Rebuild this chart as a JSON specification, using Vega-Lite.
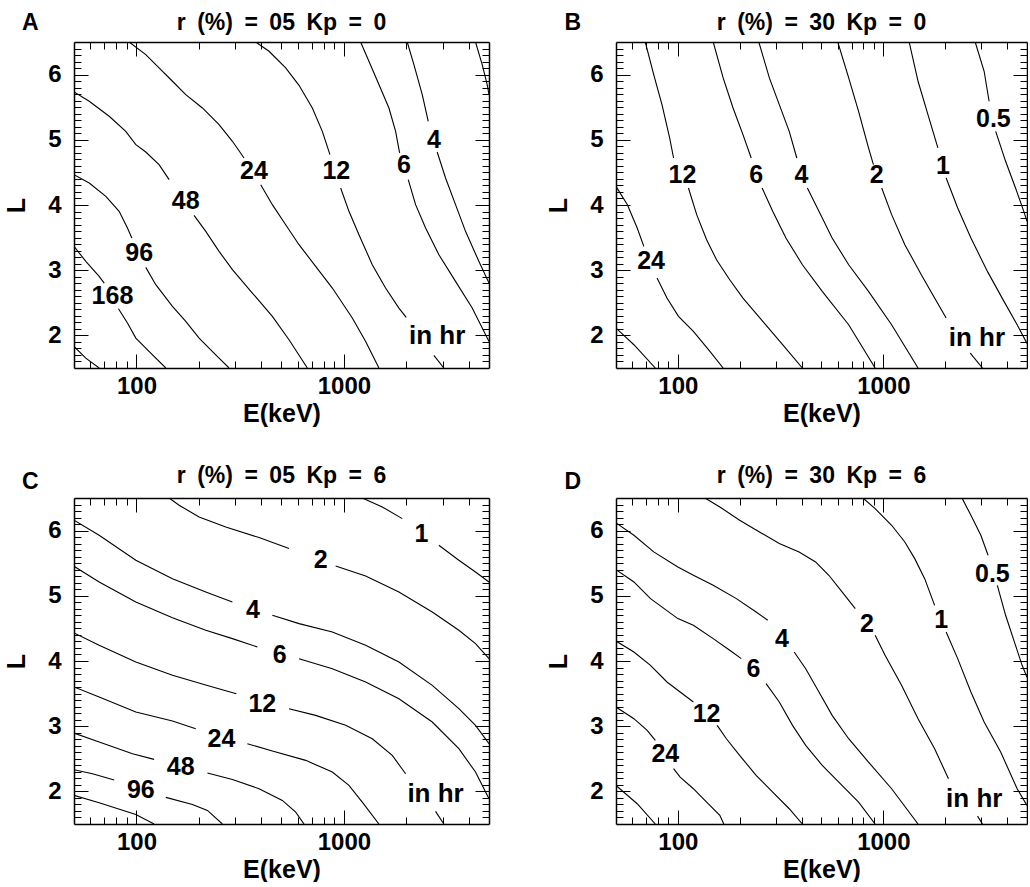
{
  "$schema": "https://vega.github.io/schema/vega-lite/v6.json",
  "background": "white",
  "padding": {"left": 4, "top": 12, "right": 0, "bottom": 0},
  "config": {
    "view": {"stroke": null},
    "font": "Liberation Sans",
    "axis": {"labelFont": "Liberation Sans", "labelFontWeight": "bold", "labelFontSize": 24, "labelColor": "black", "titleFont": "Liberation Sans", "titleFontWeight": "bold", "titleFontSize": 25, "titleColor": "black", "tickColor": "black", "tickWidth": 1, "domainColor": "black", "domainWidth": 1.5, "grid": false, "labelOverlap": false, "labelFlush": false}
  },
  "datasets": {
    "lines": [
      {"p":"A","s":"a0","E":50,"L":1.831},{"p":"A","s":"a0","E":57,"L":1.652},{"p":"A","s":"a0","E":66.1,"L":1.5},
      {"p":"A","s":"a168a","E":50,"L":3.366},{"p":"A","s":"a168a","E":57,"L":3.136},{"p":"A","s":"a168a","E":66.1,"L":2.905},{"p":"A","s":"a168a","E":69.9,"L":2.803},
      {"p":"A","s":"a168b","E":81.9,"L":2.409},{"p":"A","s":"a168b","E":90.5,"L":2.189},{"p":"A","s":"a168b","E":99.3,"L":1.959},{"p":"A","s":"a168b","E":117.2,"L":1.729},{"p":"A","s":"a168b","E":138.5,"L":1.5},
      {"p":"A","s":"a96a","E":50,"L":4.465},{"p":"A","s":"a96a","E":59.2,"L":4.338},{"p":"A","s":"a96a","E":71.2,"L":4.133},{"p":"A","s":"a96a","E":82.5,"L":3.903},{"p":"A","s":"a96a","E":90.5,"L":3.647},{"p":"A","s":"a96a","E":95,"L":3.494},
      {"p":"A","s":"a96b","E":110.9,"L":3.043},{"p":"A","s":"a96b","E":123.9,"L":2.778},{"p":"A","s":"a96b","E":149.1,"L":2.445},{"p":"A","s":"a96b","E":172.8,"L":2.215},{"p":"A","s":"a96b","E":200.4,"L":1.959},{"p":"A","s":"a96b","E":241,"L":1.703},{"p":"A","s":"a96b","E":279.4,"L":1.5},
      {"p":"A","s":"a48a","E":50,"L":5.734},{"p":"A","s":"a48a","E":59.2,"L":5.591},{"p":"A","s":"a48a","E":73.9,"L":5.361},{"p":"A","s":"a48a","E":88.8,"L":5.13},{"p":"A","s":"a48a","E":99.3,"L":4.926},{"p":"A","s":"a48a","E":110.9,"L":4.813},{"p":"A","s":"a48a","E":128.5,"L":4.619},{"p":"A","s":"a48a","E":143.7,"L":4.389},
      {"p":"A","s":"a48b","E":189.5,"L":3.841},{"p":"A","s":"a48b","E":215.8,"L":3.596},{"p":"A","s":"a48b","E":250.1,"L":3.289},{"p":"A","s":"a48b","E":290,"L":3.008},{"p":"A","s":"a48b","E":361.9,"L":2.65},{"p":"A","s":"a48b","E":451.8,"L":2.292},{"p":"A","s":"a48b","E":543.5,"L":1.934},{"p":"A","s":"a48b","E":666,"L":1.5},
      {"p":"A","s":"a24a","E":92.2,"L":6.5},{"p":"A","s":"a24a","E":110.9,"L":6.307},{"p":"A","s":"a24a","E":128.5,"L":6.102},{"p":"A","s":"a24a","E":149.1,"L":5.898},{"p":"A","s":"a24a","E":172.8,"L":5.693},{"p":"A","s":"a24a","E":207.9,"L":5.488},{"p":"A","s":"a24a","E":250.1,"L":5.233},{"p":"A","s":"a24a","E":290,"L":4.977},{"p":"A","s":"a24a","E":330,"L":4.721},
      {"p":"A","s":"a24b","E":397,"L":4.312},{"p":"A","s":"a24b","E":451.8,"L":4.005},{"p":"A","s":"a24b","E":523.7,"L":3.698},{"p":"A","s":"a24b","E":607.3,"L":3.391},{"p":"A","s":"a24b","E":730.4,"L":3.059},{"p":"A","s":"a24b","E":878.9,"L":2.726},{"p":"A","s":"a24b","E":1097,"L":2.266},{"p":"A","s":"a24b","E":1272,"L":1.908},{"p":"A","s":"a24b","E":1474,"L":1.5},
      {"p":"A","s":"a12a","E":375.5,"L":6.5},{"p":"A","s":"a12a","E":435.3,"L":6.358},{"p":"A","s":"a12a","E":523.7,"L":6.102},{"p":"A","s":"a12a","E":607.3,"L":5.836},{"p":"A","s":"a12a","E":704,"L":5.488},{"p":"A","s":"a12a","E":786.5,"L":5.13},{"p":"A","s":"a12a","E":856,"L":4.772},
      {"p":"A","s":"a12b","E":963.7,"L":4.261},{"p":"A","s":"a12b","E":1057,"L":3.903},{"p":"A","s":"a12b","E":1181,"L":3.545},{"p":"A","s":"a12b","E":1369,"L":3.084},{"p":"A","s":"a12b","E":1587,"L":2.726},{"p":"A","s":"a12b","E":1840,"L":2.419},{"p":"A","s":"a12b","E":1996,"L":2.276},
      {"p":"A","s":"a12c","E":2712,"L":1.693},{"p":"A","s":"a12c","E":3030,"L":1.5},
      {"p":"A","s":"a6a","E":1203,"L":6.5},{"p":"A","s":"a6a","E":1319,"L":6.205},{"p":"A","s":"a6a","E":1474,"L":5.847},{"p":"A","s":"a6a","E":1647,"L":5.488},{"p":"A","s":"a6a","E":1774,"L":5.13},{"p":"A","s":"a6a","E":1854,"L":4.798},
      {"p":"A","s":"a6b","E":2041,"L":4.389},{"p":"A","s":"a6b","E":2214,"L":4.005},{"p":"A","s":"a6b","E":2474,"L":3.647},{"p":"A","s":"a6b","E":2868,"L":3.238},{"p":"A","s":"a6b","E":3449,"L":2.829},{"p":"A","s":"a6b","E":4150,"L":2.419},{"p":"A","s":"a6b","E":5000,"L":1.908},
      {"p":"A","s":"a4a","E":2018,"L":6.5},{"p":"A","s":"a4a","E":2173,"L":6.153},{"p":"A","s":"a4a","E":2384,"L":5.693},{"p":"A","s":"a4a","E":2548,"L":5.284},
      {"p":"A","s":"a4b","E":2814,"L":4.813},{"p":"A","s":"a4b","E":3087,"L":4.414},{"p":"A","s":"a4b","E":3449,"L":4.005},{"p":"A","s":"a4b","E":3853,"L":3.596},{"p":"A","s":"a4b","E":4467,"L":3.136},{"p":"A","s":"a4b","E":5000,"L":2.803},
      {"p":"A","s":"a2","E":4305,"L":6.5},{"p":"A","s":"a2","E":4637,"L":6.153},{"p":"A","s":"a2","E":4900,"L":5.847},{"p":"A","s":"a2","E":5000,"L":5.693},

      {"p":"B","s":"b0","E":50,"L":2.113},{"p":"B","s":"b0","E":61.1,"L":1.857},{"p":"B","s":"b0","E":77.7,"L":1.5},
      {"p":"B","s":"b24a","E":50,"L":4.286},{"p":"B","s":"b24a","E":56.8,"L":4.005},{"p":"B","s":"b24a","E":63.4,"L":3.647},{"p":"B","s":"b24a","E":68.3,"L":3.366},
      {"p":"B","s":"b24b","E":79.2,"L":2.88},{"p":"B","s":"b24b","E":88.5,"L":2.573},{"p":"B","s":"b24b","E":100.7,"L":2.292},{"p":"B","s":"b24b","E":119,"L":2.061},{"p":"B","s":"b24b","E":143.2,"L":1.754},{"p":"B","s":"b24b","E":166.1,"L":1.5},
      {"p":"B","s":"b12a","E":69.4,"L":6.5},{"p":"B","s":"b12a","E":76.3,"L":6.0},{"p":"B","s":"b12a","E":83.7,"L":5.54},{"p":"B","s":"b12a","E":91.2,"L":5.028},{"p":"B","s":"b12a","E":95.3,"L":4.721},
      {"p":"B","s":"b12b","E":112.6,"L":4.261},{"p":"B","s":"b12b","E":123.5,"L":3.852},{"p":"B","s":"b12b","E":138,"L":3.468},{"p":"B","s":"b12b","E":154.2,"L":3.161},{"p":"B","s":"b12b","E":178.8,"L":2.854},{"p":"B","s":"b12b","E":207.4,"L":2.573},{"p":"B","s":"b12b","E":259,"L":2.215},{"p":"B","s":"b12b","E":323.4,"L":1.857},{"p":"B","s":"b12b","E":403.7,"L":1.5},
      {"p":"B","s":"b6a","E":148.6,"L":6.5},{"p":"B","s":"b6a","E":166.1,"L":5.949},{"p":"B","s":"b6a","E":185.6,"L":5.488},{"p":"B","s":"b6a","E":207.4,"L":5.079},{"p":"B","s":"b6a","E":227.5,"L":4.721},
      {"p":"B","s":"b6b","E":257,"L":4.261},{"p":"B","s":"b6b","E":289.4,"L":3.903},{"p":"B","s":"b6b","E":335.6,"L":3.494},{"p":"B","s":"b6b","E":403.7,"L":3.084},{"p":"B","s":"b6b","E":504.2,"L":2.675},{"p":"B","s":"b6b","E":678,"L":2.164},{"p":"B","s":"b6b","E":911.8,"L":1.5},
      {"p":"B","s":"b4a","E":247.7,"L":6.5},{"p":"B","s":"b4a","E":278.8,"L":5.949},{"p":"B","s":"b4a","E":311.6,"L":5.54},{"p":"B","s":"b4a","E":348.3,"L":5.13},{"p":"B","s":"b4a","E":379.2,"L":4.721},
      {"p":"B","s":"b4b","E":426.8,"L":4.261},{"p":"B","s":"b4b","E":485.9,"L":3.903},{"p":"B","s":"b4b","E":563.3,"L":3.494},{"p":"B","s":"b4b","E":678,"L":3.084},{"p":"B","s":"b4b","E":846.7,"L":2.675},{"p":"B","s":"b4b","E":1097,"L":2.164},{"p":"B","s":"b4b","E":1475,"L":1.5},
      {"p":"B","s":"b2a","E":600,"L":6.5},{"p":"B","s":"b2a","E":678,"L":5.949},{"p":"B","s":"b2a","E":757.5,"L":5.437},{"p":"B","s":"b2a","E":846.7,"L":4.875},{"p":"B","s":"b2a","E":894.7,"L":4.619},
      {"p":"B","s":"b2b","E":981.7,"L":4.261},{"p":"B","s":"b2b","E":1097,"L":3.852},{"p":"B","s":"b2b","E":1272,"L":3.391},{"p":"B","s":"b2b","E":1530,"L":2.931},{"p":"B","s":"b2b","E":1776,"L":2.573},{"p":"B","s":"b2b","E":2021,"L":2.266},
      {"p":"B","s":"b2c","E":2648,"L":1.729},{"p":"B","s":"b2c","E":3036,"L":1.5},
      {"p":"B","s":"b1a","E":1335,"L":6.5},{"p":"B","s":"b1a","E":1475,"L":5.898},{"p":"B","s":"b1a","E":1648,"L":5.386},{"p":"B","s":"b1a","E":1842,"L":4.875},
      {"p":"B","s":"b1b","E":2021,"L":4.414},{"p":"B","s":"b1b","E":2300,"L":3.954},{"p":"B","s":"b1b","E":2667,"L":3.494},{"p":"B","s":"b1b","E":3209,"L":2.982},{"p":"B","s":"b1b","E":3863,"L":2.522},{"p":"B","s":"b1b","E":4478,"L":2.164},{"p":"B","s":"b1b","E":5000,"L":1.877},
      {"p":"B","s":"b05a","E":2798,"L":6.5},{"p":"B","s":"b05a","E":3093,"L":6.051},{"p":"B","s":"b05a","E":3270,"L":5.591},
      {"p":"B","s":"b05b","E":3521,"L":5.13},{"p":"B","s":"b05b","E":3934,"L":4.67},{"p":"B","s":"b05b","E":4397,"L":4.261},{"p":"B","s":"b05b","E":4823,"L":3.903},{"p":"B","s":"b05b","E":5000,"L":3.75},

      {"p":"C","s":"c0","E":50,"L":1.939},{"p":"C","s":"c0","E":66.1,"L":1.826},{"p":"C","s":"c0","E":99.3,"L":1.647},{"p":"C","s":"c0","E":121.6,"L":1.5},
      {"p":"C","s":"c96a","E":50,"L":2.332},{"p":"C","s":"c96a","E":61.4,"L":2.271},{"p":"C","s":"c96a","E":78.1,"L":2.174},
      {"p":"C","s":"c96b","E":138.5,"L":1.908},{"p":"C","s":"c96b","E":186.1,"L":1.8},{"p":"C","s":"c96b","E":219.8,"L":1.708},{"p":"C","s":"c96b","E":259.5,"L":1.5},
      {"p":"C","s":"c48a","E":50,"L":2.895},{"p":"C","s":"c48a","E":66.1,"L":2.757},{"p":"C","s":"c48a","E":95.7,"L":2.578},{"p":"C","s":"c48a","E":121.6,"L":2.491},
      {"p":"C","s":"c48b","E":219.8,"L":2.281},{"p":"C","s":"c48b","E":290,"L":2.184},{"p":"C","s":"c48b","E":389.7,"L":2.041},{"p":"C","s":"c48b","E":504.6,"L":1.862},{"p":"C","s":"c48b","E":585.4,"L":1.683},{"p":"C","s":"c48b","E":642,"L":1.5},
      {"p":"C","s":"c24a","E":50,"L":3.601},{"p":"C","s":"c24a","E":66.1,"L":3.448},{"p":"C","s":"c24a","E":99.3,"L":3.217},{"p":"C","s":"c24a","E":149.1,"L":3.079},{"p":"C","s":"c24a","E":193.1,"L":2.962},
      {"p":"C","s":"c24b","E":342.2,"L":2.731},{"p":"C","s":"c24b","E":451.8,"L":2.619},{"p":"C","s":"c24b","E":653.9,"L":2.476},{"p":"C","s":"c24b","E":878.9,"L":2.297},{"p":"C","s":"c24b","E":1057,"L":2.092},{"p":"C","s":"c24b","E":1225,"L":1.836},{"p":"C","s":"c24b","E":1474,"L":1.5},
      {"p":"C","s":"c12a","E":50,"L":4.43},{"p":"C","s":"c12a","E":66.1,"L":4.24},{"p":"C","s":"c12a","E":99.3,"L":3.985},{"p":"C","s":"c12a","E":149.1,"L":3.78},{"p":"C","s":"c12a","E":223.9,"L":3.616},{"p":"C","s":"c12a","E":303,"L":3.499},
      {"p":"C","s":"c12b","E":543.5,"L":3.269},{"p":"C","s":"c12b","E":730.4,"L":3.166},{"p":"C","s":"c12b","E":1019,"L":3.013},{"p":"C","s":"c12b","E":1369,"L":2.808},{"p":"C","s":"c12b","E":1709,"L":2.552},{"p":"C","s":"c12b","E":1982,"L":2.271},
      {"p":"C","s":"c12c","E":2763,"L":1.693},{"p":"C","s":"c12c","E":3030,"L":1.5},
      {"p":"C","s":"c6a","E":50,"L":5.453},{"p":"C","s":"c6a","E":66.1,"L":5.212},{"p":"C","s":"c6a","E":99.3,"L":4.905},{"p":"C","s":"c6a","E":149.1,"L":4.665},{"p":"C","s":"c6a","E":215.8,"L":4.471},{"p":"C","s":"c6a","E":290,"L":4.343},{"p":"C","s":"c6a","E":382.6,"L":4.215},
      {"p":"C","s":"c6b","E":607.3,"L":4.036},{"p":"C","s":"c6b","E":878.9,"L":3.882},{"p":"C","s":"c6b","E":1272,"L":3.678},{"p":"C","s":"c6b","E":1840,"L":3.422},{"p":"C","s":"c6b","E":2664,"L":3.064},{"p":"C","s":"c6b","E":3579,"L":2.655},{"p":"C","s":"c6b","E":4305,"L":2.297},{"p":"C","s":"c6b","E":5000,"L":1.887},
      {"p":"C","s":"c4a","E":50,"L":6.159},{"p":"C","s":"c4a","E":66.1,"L":5.928},{"p":"C","s":"c4a","E":99.3,"L":5.545},{"p":"C","s":"c4a","E":149.1,"L":5.263},{"p":"C","s":"c4a","E":215.8,"L":5.059},{"p":"C","s":"c4a","E":290,"L":4.905},
      {"p":"C","s":"c4b","E":451.8,"L":4.701},{"p":"C","s":"c4b","E":607.3,"L":4.573},{"p":"C","s":"c4b","E":878.9,"L":4.445},{"p":"C","s":"c4b","E":1272,"L":4.24},{"p":"C","s":"c4b","E":1840,"L":3.985},{"p":"C","s":"c4b","E":2664,"L":3.627},{"p":"C","s":"c4b","E":3579,"L":3.269},{"p":"C","s":"c4b","E":4305,"L":3.013},{"p":"C","s":"c4b","E":5000,"L":2.731},
      {"p":"C","s":"c2a","E":143.7,"L":6.5},{"p":"C","s":"c2a","E":160.5,"L":6.389},{"p":"C","s":"c2a","E":200.4,"L":6.21},{"p":"C","s":"c2a","E":269.3,"L":6.056},{"p":"C","s":"c2a","E":389.7,"L":5.893},{"p":"C","s":"c2a","E":543.5,"L":5.724},
      {"p":"C","s":"c2b","E":912,"L":5.458},{"p":"C","s":"c2b","E":1272,"L":5.304},{"p":"C","s":"c2b","E":1840,"L":5.059},{"p":"C","s":"c2b","E":2664,"L":4.752},{"p":"C","s":"c2b","E":3579,"L":4.471},{"p":"C","s":"c2b","E":4305,"L":4.266},{"p":"C","s":"c2b","E":5000,"L":4.036},
      {"p":"C","s":"c1a","E":1225,"L":6.5},{"p":"C","s":"c1a","E":1530,"L":6.363},{"p":"C","s":"c1a","E":1910,"L":6.184},
      {"p":"C","s":"c1b","E":2866,"L":5.775},{"p":"C","s":"c1b","E":3579,"L":5.545},{"p":"C","s":"c1b","E":4305,"L":5.366},{"p":"C","s":"c1b","E":5000,"L":5.212},

      {"p":"D","s":"d0","E":50,"L":2.092},{"p":"D","s":"d0","E":63.4,"L":1.811},{"p":"D","s":"d0","E":77.7,"L":1.5},
      {"p":"D","s":"d24a","E":50,"L":3.294},{"p":"D","s":"d24a","E":61.1,"L":3.115},{"p":"D","s":"d24a","E":70.9,"L":2.936},{"p":"D","s":"d24a","E":77.7,"L":2.783},
      {"p":"D","s":"d24b","E":95.3,"L":2.348},{"p":"D","s":"d24b","E":102.6,"L":2.22},{"p":"D","s":"d24b","E":119,"L":2.041},{"p":"D","s":"d24b","E":138,"L":1.836},{"p":"D","s":"d24b","E":160,"L":1.632},{"p":"D","s":"d24b","E":167.3,"L":1.5},
      {"p":"D","s":"d12a","E":50,"L":4.307},{"p":"D","s":"d12a","E":61.1,"L":4.138},{"p":"D","s":"d12a","E":73.6,"L":3.934},{"p":"D","s":"d12a","E":88.5,"L":3.678},{"p":"D","s":"d12a","E":102.6,"L":3.524},{"p":"D","s":"d12a","E":119,"L":3.371},
      {"p":"D","s":"d12b","E":155.3,"L":3.013},{"p":"D","s":"d12b","E":172.3,"L":2.808},{"p":"D","s":"d12b","E":199.8,"L":2.552},{"p":"D","s":"d12b","E":240.4,"L":2.246},{"p":"D","s":"d12b","E":289.4,"L":1.99},{"p":"D","s":"d12b","E":348.3,"L":1.734},{"p":"D","s":"d12b","E":403.7,"L":1.5},
      {"p":"D","s":"d6a","E":50,"L":5.402},{"p":"D","s":"d6a","E":61.1,"L":5.212},{"p":"D","s":"d6a","E":73.6,"L":4.957},{"p":"D","s":"d6a","E":100,"L":4.65},{"p":"D","s":"d6a","E":119,"L":4.547},{"p":"D","s":"d6a","E":148.6,"L":4.343},{"p":"D","s":"d6a","E":178.8,"L":4.164},{"p":"D","s":"d6a","E":203.6,"L":4.036},
      {"p":"D","s":"d6b","E":268.7,"L":3.652},{"p":"D","s":"d6b","E":311.6,"L":3.371},{"p":"D","s":"d6b","E":361.4,"L":3.013},{"p":"D","s":"d6b","E":418.9,"L":2.706},{"p":"D","s":"d6b","E":504.2,"L":2.399},{"p":"D","s":"d6b","E":606.7,"L":2.143},{"p":"D","s":"d6b","E":757.5,"L":1.836},{"p":"D","s":"d6b","E":911.8,"L":1.5},
      {"p":"D","s":"d4a","E":50,"L":6.118},{"p":"D","s":"d4a","E":61.1,"L":5.928},{"p":"D","s":"d4a","E":76.3,"L":5.673},{"p":"D","s":"d4a","E":100,"L":5.442},{"p":"D","s":"d4a","E":119,"L":5.315},{"p":"D","s":"d4a","E":148.6,"L":5.161},{"p":"D","s":"d4a","E":192.6,"L":4.957},{"p":"D","s":"d4a","E":240.4,"L":4.752},{"p":"D","s":"d4a","E":273.7,"L":4.624},
      {"p":"D","s":"d4b","E":368.1,"L":4.138},{"p":"D","s":"d4b","E":418.9,"L":3.882},{"p":"D","s":"d4b","E":485.9,"L":3.524},{"p":"D","s":"d4b","E":563.3,"L":3.166},{"p":"D","s":"d4b","E":678,"L":2.808},{"p":"D","s":"d4b","E":846.7,"L":2.45},{"p":"D","s":"d4b","E":1097,"L":2.041},{"p":"D","s":"d4b","E":1475,"L":1.5},
      {"p":"D","s":"d2a","E":135.5,"L":6.5},{"p":"D","s":"d2a","E":160,"L":6.363},{"p":"D","s":"d2a","E":199.8,"L":6.159},{"p":"D","s":"d2a","E":249.5,"L":5.98},{"p":"D","s":"d2a","E":311.6,"L":5.801},{"p":"D","s":"d2a","E":389,"L":5.673},{"p":"D","s":"d2a","E":468.1,"L":5.519},{"p":"D","s":"d2a","E":542.8,"L":5.315},{"p":"D","s":"d2a","E":629.5,"L":5.059},{"p":"D","s":"d2a","E":730,"L":4.803},
      {"p":"D","s":"d2b","E":912,"L":4.394},{"p":"D","s":"d2b","E":1019,"L":4.087},{"p":"D","s":"d2b","E":1226,"L":3.627},{"p":"D","s":"d2b","E":1475,"L":3.115},{"p":"D","s":"d2b","E":1776,"L":2.655},{"p":"D","s":"d2b","E":2074,"L":2.194},
      {"p":"D","s":"d2c","E":2872,"L":1.621},{"p":"D","s":"d2c","E":3036,"L":1.5},
      {"p":"D","s":"d1a","E":794.9,"L":6.5},{"p":"D","s":"d1a","E":912,"L":6.338},{"p":"D","s":"d1a","E":1097,"L":6.082},{"p":"D","s":"d1a","E":1272,"L":5.826},{"p":"D","s":"d1a","E":1421,"L":5.57},{"p":"D","s":"d1a","E":1589,"L":5.263},{"p":"D","s":"d1a","E":1776,"L":4.854},
      {"p":"D","s":"d1b","E":2021,"L":4.445},{"p":"D","s":"d1b","E":2300,"L":4.036},{"p":"D","s":"d1b","E":2667,"L":3.524},{"p":"D","s":"d1b","E":3093,"L":3.064},{"p":"D","s":"d1b","E":3722,"L":2.604},{"p":"D","s":"d1b","E":4478,"L":2.041},{"p":"D","s":"d1b","E":5000,"L":1.785},
      {"p":"D","s":"d05a","E":2413,"L":6.5},{"p":"D","s":"d05a","E":2667,"L":6.235},{"p":"D","s":"d05a","E":2981,"L":5.928},{"p":"D","s":"d05a","E":3233,"L":5.621},
      {"p":"D","s":"d05b","E":3586,"L":5.161},{"p":"D","s":"d05b","E":3934,"L":4.701},{"p":"D","s":"d05b","E":4397,"L":4.24},{"p":"D","s":"d05b","E":4734,"L":3.934},{"p":"D","s":"d05b","E":5000,"L":3.75}
    ],
    "labels": [
      {"p":"A","t":"168","E":76.6,"L":2.609},{"p":"A","t":"96","E":103,"L":3.263},{"p":"A","t":"48","E":172.8,"L":4.066},{"p":"A","t":"24","E":368.6,"L":4.517},{"p":"A","t":"12","E":918.6,"L":4.517},{"p":"A","t":"6","E":1945,"L":4.619},{"p":"A","t":"4","E":2712,"L":5.003},{"p":"A","t":"in hr","E":2814,"L":1.985},
      {"p":"B","t":"24","E":74.1,"L":3.136},{"p":"B","t":"12","E":105.3,"L":4.465},{"p":"B","t":"6","E":240.4,"L":4.465},{"p":"B","t":"4","E":399.3,"L":4.465},{"p":"B","t":"2","E":928.7,"L":4.465},{"p":"B","t":"1","E":1948,"L":4.593},{"p":"B","t":"0.5","E":3431,"L":5.325},{"p":"B","t":"in hr","E":2851,"L":1.959},
      {"p":"C","t":"96","E":105,"L":2.015},{"p":"C","t":"48","E":163.5,"L":2.373},{"p":"C","t":"24","E":256.7,"L":2.808},{"p":"C","t":"12","E":404.3,"L":3.345},{"p":"C","t":"6","E":490,"L":4.097},{"p":"C","t":"4","E":364.6,"L":4.777},{"p":"C","t":"2","E":772,"L":5.545},{"p":"C","t":"1","E":2366,"L":5.954},{"p":"C","t":"in hr","E":2763,"L":1.964},
      {"p":"D","t":"24","E":86.9,"L":2.578},{"p":"D","t":"12","E":138,"L":3.192},{"p":"D","t":"6","E":233.4,"L":3.882},{"p":"D","t":"4","E":321,"L":4.343},{"p":"D","t":"2","E":831.2,"L":4.573},{"p":"D","t":"1","E":1911,"L":4.624},{"p":"D","t":"0.5","E":3393,"L":5.34},{"p":"D","t":"in hr","E":2768,"L":1.887}
    ],
    "heads": [
      {"p":"A","t":"A","E":30.8,"L":6.79},{"p":"A","t":"r\u2002(%)\u2002=\u200205\u2002Kp\u2002=\u20020","E":500,"L":6.79},
      {"p":"B","t":"B","E":30.8,"L":6.79},{"p":"B","t":"r\u2002(%)\u2002=\u200230\u2002Kp\u2002=\u20020","E":500,"L":6.79},
      {"p":"C","t":"C","E":30.8,"L":6.74},{"p":"C","t":"r\u2002(%)\u2002=\u200205\u2002Kp\u2002=\u20026","E":500,"L":6.83},
      {"p":"D","t":"D","E":30.8,"L":6.74},{"p":"D","t":"r\u2002(%)\u2002=\u200230\u2002Kp\u2002=\u20026","E":500,"L":6.83}
    ]
  },
  "spacing": 39,
  "vconcat": [
    {"spacing": 56, "hconcat": [
      {"width": 415, "height": 326,
       "resolve": {"axis": {"x": "independent", "y": "independent"}},
       "layer": [
        {"data": {"name": "lines"}, "transform": [{"filter": "datum.p == 'A'"}],
         "mark": {"type": "line", "color": "black", "strokeWidth": 1.1, "clip": true},
         "encoding": {
          "x": {"field": "E", "type": "quantitative", "scale": {"type": "log", "domain": [50, 5000], "nice": false},
                "axis": {"orient": "bottom", "values": [60,70,80,90,100,200,300,400,500,600,700,800,900,1000,2000,3000,4000], "tickSize": {"condition": {"test": "datum.value == 100 || datum.value == 1000", "value": -14}, "value": -7}, "labelExpr": "(datum.value == 100 || datum.value == 1000) ? format(datum.value, 'd') : ''", "labelPadding": 20, "title": "E(keV)", "titlePadding": -4}},
          "y": {"field": "L", "type": "quantitative", "scale": {"domain": [1.5, 6.5], "nice": false, "zero": false},
                "axis": {"orient": "left", "values": [1.6,1.7,1.8,1.9,2,2.1,2.2,2.3,2.4,2.5,2.6,2.7,2.8,2.9,3,3.1,3.2,3.3,3.4,3.5,3.6,3.7,3.8,3.9,4,4.1,4.2,4.3,4.4,4.5,4.6,4.7,4.8,4.9,5,5.1,5.2,5.3,5.4,5.5,5.6,5.7,5.8,5.9,6,6.1,6.2,6.3,6.4], "tickSize": {"condition": {"test": "datum.value == round(datum.value)", "value": -14}, "value": -7}, "labelExpr": "datum.value == round(datum.value) ? format(datum.value, 'd') : ''", "labelPadding": 27, "title": "L", "titlePadding": 18}},
          "detail": {"field": "s"}}},
        {"data": {"name": "labels"}, "transform": [{"filter": "datum.p == 'A'"}],
         "mark": {"type": "text", "font": "Liberation Sans", "fontWeight": "bold", "color": "black", "align": "center", "baseline": "middle"},
         "encoding": {
          "x": {"field": "E", "type": "quantitative", "axis": {"orient": "top", "values": [60,70,80,90,100,200,300,400,500,600,700,800,900,1000,2000,3000,4000], "tickSize": {"condition": {"test": "datum.value == 100 || datum.value == 1000", "value": -14}, "value": -7}, "labels": false, "title": null}},
          "y": {"field": "L", "type": "quantitative", "axis": {"orient": "right", "values": [1.6,1.7,1.8,1.9,2,2.1,2.2,2.3,2.4,2.5,2.6,2.7,2.8,2.9,3,3.1,3.2,3.3,3.4,3.5,3.6,3.7,3.8,3.9,4,4.1,4.2,4.3,4.4,4.5,4.6,4.7,4.8,4.9,5,5.1,5.2,5.3,5.4,5.5,5.6,5.7,5.8,5.9,6,6.1,6.2,6.3,6.4], "tickSize": {"condition": {"test": "datum.value == round(datum.value)", "value": -14}, "value": -7}, "labels": false, "title": null}},
          "text": {"field": "t"},
          "size": {"condition": {"test": "datum.t == 'in hr'", "value": 26}, "value": 25}}},
        {"data": {"name": "heads"}, "transform": [{"filter": "datum.p == 'A'"}],
         "mark": {"type": "text", "font": "Liberation Sans", "fontWeight": "bold", "fontSize": 23, "color": "black", "align": "center", "baseline": "middle"},
         "encoding": {"x": {"field": "E", "type": "quantitative", "axis": null}, "y": {"field": "L", "type": "quantitative", "axis": null}, "text": {"field": "t"}}}
       ]},
      {"width": 411, "height": 326,
       "resolve": {"axis": {"x": "independent", "y": "independent"}},
       "layer": [
        {"data": {"name": "lines"}, "transform": [{"filter": "datum.p == 'B'"}],
         "mark": {"type": "line", "color": "black", "strokeWidth": 1.1, "clip": true},
         "encoding": {
          "x": {"field": "E", "type": "quantitative", "scale": {"type": "log", "domain": [50, 5000], "nice": false},
                "axis": {"orient": "bottom", "values": [60,70,80,90,100,200,300,400,500,600,700,800,900,1000,2000,3000,4000], "tickSize": {"condition": {"test": "datum.value == 100 || datum.value == 1000", "value": -14}, "value": -7}, "labelExpr": "(datum.value == 100 || datum.value == 1000) ? format(datum.value, 'd') : ''", "labelPadding": 20, "title": "E(keV)", "titlePadding": -4}},
          "y": {"field": "L", "type": "quantitative", "scale": {"domain": [1.5, 6.5], "nice": false, "zero": false},
                "axis": {"orient": "left", "values": [1.6,1.7,1.8,1.9,2,2.1,2.2,2.3,2.4,2.5,2.6,2.7,2.8,2.9,3,3.1,3.2,3.3,3.4,3.5,3.6,3.7,3.8,3.9,4,4.1,4.2,4.3,4.4,4.5,4.6,4.7,4.8,4.9,5,5.1,5.2,5.3,5.4,5.5,5.6,5.7,5.8,5.9,6,6.1,6.2,6.3,6.4], "tickSize": {"condition": {"test": "datum.value == round(datum.value)", "value": -14}, "value": -7}, "labelExpr": "datum.value == round(datum.value) ? format(datum.value, 'd') : ''", "labelPadding": 27, "title": "L", "titlePadding": 18}},
          "detail": {"field": "s"}}},
        {"data": {"name": "labels"}, "transform": [{"filter": "datum.p == 'B'"}],
         "mark": {"type": "text", "font": "Liberation Sans", "fontWeight": "bold", "color": "black", "align": "center", "baseline": "middle"},
         "encoding": {
          "x": {"field": "E", "type": "quantitative", "axis": {"orient": "top", "values": [60,70,80,90,100,200,300,400,500,600,700,800,900,1000,2000,3000,4000], "tickSize": {"condition": {"test": "datum.value == 100 || datum.value == 1000", "value": -14}, "value": -7}, "labels": false, "title": null}},
          "y": {"field": "L", "type": "quantitative", "axis": {"orient": "right", "values": [1.6,1.7,1.8,1.9,2,2.1,2.2,2.3,2.4,2.5,2.6,2.7,2.8,2.9,3,3.1,3.2,3.3,3.4,3.5,3.6,3.7,3.8,3.9,4,4.1,4.2,4.3,4.4,4.5,4.6,4.7,4.8,4.9,5,5.1,5.2,5.3,5.4,5.5,5.6,5.7,5.8,5.9,6,6.1,6.2,6.3,6.4], "tickSize": {"condition": {"test": "datum.value == round(datum.value)", "value": -14}, "value": -7}, "labels": false, "title": null}},
          "text": {"field": "t"},
          "size": {"condition": {"test": "datum.t == 'in hr'", "value": 26}, "value": 25}}},
        {"data": {"name": "heads"}, "transform": [{"filter": "datum.p == 'B'"}],
         "mark": {"type": "text", "font": "Liberation Sans", "fontWeight": "bold", "fontSize": 23, "color": "black", "align": "center", "baseline": "middle"},
         "encoding": {"x": {"field": "E", "type": "quantitative", "axis": null}, "y": {"field": "L", "type": "quantitative", "axis": null}, "text": {"field": "t"}}}
       ]}
    ]},
    {"spacing": 56, "hconcat": [
      {"width": 415, "height": 326,
       "resolve": {"axis": {"x": "independent", "y": "independent"}},
       "layer": [
        {"data": {"name": "lines"}, "transform": [{"filter": "datum.p == 'C'"}],
         "mark": {"type": "line", "color": "black", "strokeWidth": 1.1, "clip": true},
         "encoding": {
          "x": {"field": "E", "type": "quantitative", "scale": {"type": "log", "domain": [50, 5000], "nice": false},
                "axis": {"orient": "bottom", "values": [60,70,80,90,100,200,300,400,500,600,700,800,900,1000,2000,3000,4000], "tickSize": {"condition": {"test": "datum.value == 100 || datum.value == 1000", "value": -14}, "value": -7}, "labelExpr": "(datum.value == 100 || datum.value == 1000) ? format(datum.value, 'd') : ''", "labelPadding": 20, "title": "E(keV)", "titlePadding": -4}},
          "y": {"field": "L", "type": "quantitative", "scale": {"domain": [1.5, 6.5], "nice": false, "zero": false},
                "axis": {"orient": "left", "values": [1.6,1.7,1.8,1.9,2,2.1,2.2,2.3,2.4,2.5,2.6,2.7,2.8,2.9,3,3.1,3.2,3.3,3.4,3.5,3.6,3.7,3.8,3.9,4,4.1,4.2,4.3,4.4,4.5,4.6,4.7,4.8,4.9,5,5.1,5.2,5.3,5.4,5.5,5.6,5.7,5.8,5.9,6,6.1,6.2,6.3,6.4], "tickSize": {"condition": {"test": "datum.value == round(datum.value)", "value": -14}, "value": -7}, "labelExpr": "datum.value == round(datum.value) ? format(datum.value, 'd') : ''", "labelPadding": 27, "title": "L", "titlePadding": 18}},
          "detail": {"field": "s"}}},
        {"data": {"name": "labels"}, "transform": [{"filter": "datum.p == 'C'"}],
         "mark": {"type": "text", "font": "Liberation Sans", "fontWeight": "bold", "color": "black", "align": "center", "baseline": "middle"},
         "encoding": {
          "x": {"field": "E", "type": "quantitative", "axis": {"orient": "top", "values": [60,70,80,90,100,200,300,400,500,600,700,800,900,1000,2000,3000,4000], "tickSize": {"condition": {"test": "datum.value == 100 || datum.value == 1000", "value": -14}, "value": -7}, "labels": false, "title": null}},
          "y": {"field": "L", "type": "quantitative", "axis": {"orient": "right", "values": [1.6,1.7,1.8,1.9,2,2.1,2.2,2.3,2.4,2.5,2.6,2.7,2.8,2.9,3,3.1,3.2,3.3,3.4,3.5,3.6,3.7,3.8,3.9,4,4.1,4.2,4.3,4.4,4.5,4.6,4.7,4.8,4.9,5,5.1,5.2,5.3,5.4,5.5,5.6,5.7,5.8,5.9,6,6.1,6.2,6.3,6.4], "tickSize": {"condition": {"test": "datum.value == round(datum.value)", "value": -14}, "value": -7}, "labels": false, "title": null}},
          "text": {"field": "t"},
          "size": {"condition": {"test": "datum.t == 'in hr'", "value": 26}, "value": 25}}},
        {"data": {"name": "heads"}, "transform": [{"filter": "datum.p == 'C'"}],
         "mark": {"type": "text", "font": "Liberation Sans", "fontWeight": "bold", "fontSize": 23, "color": "black", "align": "center", "baseline": "middle"},
         "encoding": {"x": {"field": "E", "type": "quantitative", "axis": null}, "y": {"field": "L", "type": "quantitative", "axis": null}, "text": {"field": "t"}}}
       ]},
      {"width": 411, "height": 326,
       "resolve": {"axis": {"x": "independent", "y": "independent"}},
       "layer": [
        {"data": {"name": "lines"}, "transform": [{"filter": "datum.p == 'D'"}],
         "mark": {"type": "line", "color": "black", "strokeWidth": 1.1, "clip": true},
         "encoding": {
          "x": {"field": "E", "type": "quantitative", "scale": {"type": "log", "domain": [50, 5000], "nice": false},
                "axis": {"orient": "bottom", "values": [60,70,80,90,100,200,300,400,500,600,700,800,900,1000,2000,3000,4000], "tickSize": {"condition": {"test": "datum.value == 100 || datum.value == 1000", "value": -14}, "value": -7}, "labelExpr": "(datum.value == 100 || datum.value == 1000) ? format(datum.value, 'd') : ''", "labelPadding": 20, "title": "E(keV)", "titlePadding": -4}},
          "y": {"field": "L", "type": "quantitative", "scale": {"domain": [1.5, 6.5], "nice": false, "zero": false},
                "axis": {"orient": "left", "values": [1.6,1.7,1.8,1.9,2,2.1,2.2,2.3,2.4,2.5,2.6,2.7,2.8,2.9,3,3.1,3.2,3.3,3.4,3.5,3.6,3.7,3.8,3.9,4,4.1,4.2,4.3,4.4,4.5,4.6,4.7,4.8,4.9,5,5.1,5.2,5.3,5.4,5.5,5.6,5.7,5.8,5.9,6,6.1,6.2,6.3,6.4], "tickSize": {"condition": {"test": "datum.value == round(datum.value)", "value": -14}, "value": -7}, "labelExpr": "datum.value == round(datum.value) ? format(datum.value, 'd') : ''", "labelPadding": 27, "title": "L", "titlePadding": 18}},
          "detail": {"field": "s"}}},
        {"data": {"name": "labels"}, "transform": [{"filter": "datum.p == 'D'"}],
         "mark": {"type": "text", "font": "Liberation Sans", "fontWeight": "bold", "color": "black", "align": "center", "baseline": "middle"},
         "encoding": {
          "x": {"field": "E", "type": "quantitative", "axis": {"orient": "top", "values": [60,70,80,90,100,200,300,400,500,600,700,800,900,1000,2000,3000,4000], "tickSize": {"condition": {"test": "datum.value == 100 || datum.value == 1000", "value": -14}, "value": -7}, "labels": false, "title": null}},
          "y": {"field": "L", "type": "quantitative", "axis": {"orient": "right", "values": [1.6,1.7,1.8,1.9,2,2.1,2.2,2.3,2.4,2.5,2.6,2.7,2.8,2.9,3,3.1,3.2,3.3,3.4,3.5,3.6,3.7,3.8,3.9,4,4.1,4.2,4.3,4.4,4.5,4.6,4.7,4.8,4.9,5,5.1,5.2,5.3,5.4,5.5,5.6,5.7,5.8,5.9,6,6.1,6.2,6.3,6.4], "tickSize": {"condition": {"test": "datum.value == round(datum.value)", "value": -14}, "value": -7}, "labels": false, "title": null}},
          "text": {"field": "t"},
          "size": {"condition": {"test": "datum.t == 'in hr'", "value": 26}, "value": 25}}},
        {"data": {"name": "heads"}, "transform": [{"filter": "datum.p == 'D'"}],
         "mark": {"type": "text", "font": "Liberation Sans", "fontWeight": "bold", "fontSize": 23, "color": "black", "align": "center", "baseline": "middle"},
         "encoding": {"x": {"field": "E", "type": "quantitative", "axis": null}, "y": {"field": "L", "type": "quantitative", "axis": null}, "text": {"field": "t"}}}
       ]}
    ]}
  ]
}
